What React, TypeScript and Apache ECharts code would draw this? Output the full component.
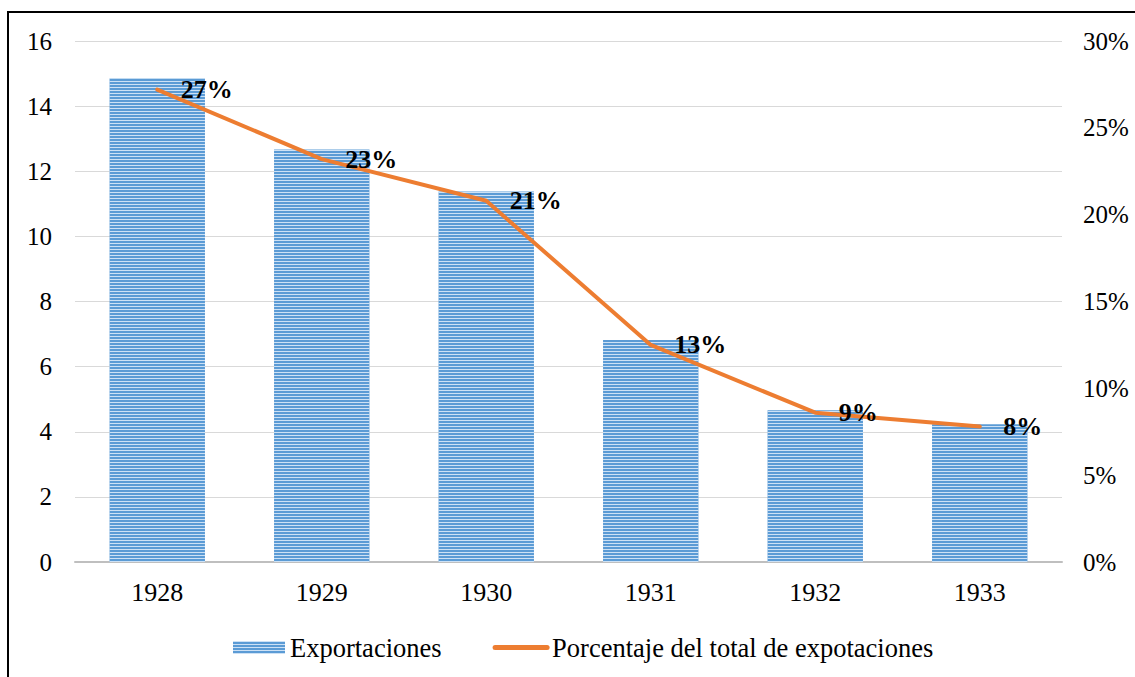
import React, { useEffect, useRef } from "react";
import * as echarts from "echarts";

const years = ["1928", "1929", "1930", "1931", "1932", "1933"];
const exportaciones = [14.85, 12.67, 11.38, 6.82, 4.66, 4.23];
const porcentaje = [27.2, 23.2, 20.8, 12.5, 8.6, 7.8];
const leftTicks = { min: 0, max: 16, interval: 2 };
const rightTicks = { min: 0, max: 30, interval: 5 };

export default function App() {
  const ref = useRef<HTMLDivElement>(null);
  useEffect(() => {
    const chart = echarts.init(ref.current!, null, { renderer: "svg" });
    const font = "Liberation Serif";
    const fs = 25;
    const fsL = 26.5;
    chart.setOption({
      animation: false,
      textStyle: { fontFamily: font },
      grid: { left: 75, right: 73, top: 41, bottom: 115 },
      graphic: [
        { type: "line", shape: { x1: 7, y1: 12, x2: 1135, y2: 12 }, style: { stroke: "#000", lineWidth: 2 } },
        { type: "line", shape: { x1: 8, y1: 11, x2: 8, y2: 677 }, style: { stroke: "#000", lineWidth: 2 } },
      ],
      legend: {
        top: 629,
        left: 228,
        padding: [5, 5, 5, 5],
        itemGap: 51,
        itemWidth: 52,
        itemHeight: 13,
        textStyle: { fontFamily: font, fontSize: fsL, color: "#000" },
        data: [
          { name: "Exportaciones", icon: "rect" },
          {
            name: "Porcentaje del total de expotaciones",
            itemStyle: { color: "rgba(0,0,0,0)", borderWidth: 0, opacity: 0 },
            lineStyle: { color: "#ed7d31", width: 5, cap: "round" },
          },
        ],
      },
      xAxis: {
        type: "category",
        data: years,
        axisTick: { show: false },
        axisLine: { lineStyle: { color: "#bfbfbf", width: 2 } },
        axisLabel: { fontFamily: font, fontSize: 26, color: "#000", margin: 17 },
      },
      yAxis: [
        {
          type: "value",
          ...leftTicks,
          axisLine: { show: false },
          axisTick: { show: false },
          splitLine: { lineStyle: { color: "#d9d9d9", width: 1 } },
          axisLabel: { fontFamily: font, fontSize: fs, color: "#000", margin: 23 },
        },
        {
          type: "value",
          ...rightTicks,
          axisLine: { show: false },
          axisTick: { show: false },
          splitLine: { show: false },
          axisLabel: { fontFamily: font, fontSize: fs, color: "#000", margin: 21, formatter: "{value}%" },
        },
      ],
      series: [
        {
          name: "Exportaciones",
          type: "bar",
          data: exportaciones,
          barWidth: "58%",
          itemStyle: {
            color: "#5b9bd5",
            decal: {
              symbol: "rect",
              symbolSize: 1,
              dashArrayX: [[1, 0]],
              dashArrayY: [1, 2],
              rotation: 0,
              color: "rgba(225,238,250,0.85)",
            },
          },
        },
        {
          name: "Porcentaje del total de expotaciones",
          type: "line",
          yAxisIndex: 1,
          data: porcentaje,
          symbol: "circle",
          symbolSize: 1,
          showSymbol: true,
          lineStyle: { color: "#ed7d31", width: 4, cap: "round" },
          itemStyle: { color: "#ed7d31" },
          label: {
            show: true,
            position: "right",
            distance: 23,
            formatter: (p: any) => Math.round(p.value) + "%",
            fontFamily: font,
            fontSize: 26,
            fontWeight: "bold",
            color: "#000",
          },
        },
      ],
    });
    return () => chart.dispose();
  }, []);
  return (
    <div
      ref={ref}
      style={{ position: "absolute", left: 0, top: 0, width: 1135, height: 677, background: "#fff" }}
    />
  );
}
